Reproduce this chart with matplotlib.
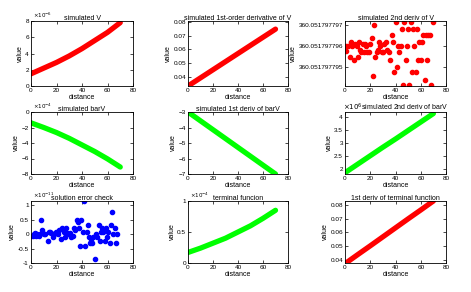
import matplotlib
matplotlib.use("Agg")
import matplotlib.pyplot as plt
import numpy as np
from matplotlib.ticker import FuncFormatter

plt.rcParams['font.family'] = ['Liberation Sans', 'DejaVu Sans']

RED = '#ff0000'
GREEN = '#00ff00'
BLUE = '#0000ff'

xc = [0, 10, 20, 30, 40, 50, 60, 70]
# simulated V (x1e-6)
v_vals = [1.5, 2.2, 2.9, 3.7, 4.6, 5.6, 6.6, 7.8]
# simulated 1st-order derivative of V
dv_vals = [0.033, 0.039, 0.045, 0.051, 0.057, 0.063, 0.069, 0.075]
# simulated 2nd deriv of V: offsets from 360.051797796 in units of 1e-9
d2v_x = [0.5, 0.8, 2.6, 4, 4.8, 5.8, 6.9, 7.9, 9.2, 10, 11, 12, 13, 14, 15, 15.8, 16.6, 17.7, 19, 20,
         21, 22, 23, 24, 25, 26, 27, 28, 29, 30, 31, 32.5, 33.5, 35, 36, 37, 38, 39, 40, 41,
         42, 43, 44, 45, 46, 47, 48, 49, 50, 51, 52, 53, 54, 55, 56, 57, 58, 59, 60, 61,
         62, 63, 64, 65, 66, 67, 68, 69.5]
d2v_y = [0.0, -0.25, 0.0, -0.5, 0.2, 0.0, -0.65, 0.1, 0.0, -0.5, 0.2, -0.2, -0.3, 0.1, -0.3, 0.1, 0.0, -0.3, -0.3, 0.1,
         0.4, -1.4, 1.0, -0.5, -0.3, -0.2, 0.2, 0.0, -0.3, -0.3, 0.1, 0.2, -0.2, -0.3, -0.65, 0.55, 0.2, -1.25, 1.15, -1.0,
         0.0, -0.3, 0.0, 0.8, -1.85, 1.15, -0.65, 0.0, 0.8, -1.85, 1.15, -1.25, 0.8, 0.0, -1.25, 0.8, -0.65, 0.2, -0.65, 0.2,
         0.55, -1.6, 0.55, -0.65, 0.55, 0.55, -1.85, 1.15]
d2v_base = 360.051797796
# simulated barV (x1e-4)
bv_vals = [-1.4, -2.0, -2.65, -3.4, -4.25, -5.1, -6.05, -7.1]
# simulated 1st deriv of barV
dbv_vals = [-3.0, -3.571, -4.143, -4.714, -5.286, -5.857, -6.429, -7.0]
# simulated 2nd deriv of barV
d2bv_vals = [1.85, 2.18, 2.51, 2.84, 3.16, 3.49, 3.82, 4.15]
# solution error check (x1e-11)
err_x = [0, 1.3, 2, 3, 4, 5, 6, 7, 8, 9, 10, 11, 13, 14, 15, 16, 17, 18, 19.5, 20,
         21.5, 22, 23.4, 24.4, 25.5, 26.5, 27.5, 28.5, 29.6, 30.6, 31.7, 32.7, 33.8, 34.8, 36, 37, 38, 38.5, 39.5, 40.5,
         41.5, 42.6, 43.6, 44.4, 45.2, 46.2, 47, 47.8, 48.8, 50, 51, 52, 53, 53.8, 54.8, 55.6, 56.6, 58, 58.7, 59.7,
         60.5, 62, 62.6, 63.6, 64.7, 65.7, 66.5, 67.5]
err_y = [-0.07, -0.07, 0, 0.05, -0.07, 0, -0.07, 0, 0.5, 0.14, 0, 0, -0.23, 0.08, 0.08, 0.02, -0.11, 0, 0.08, 0.02,
         0, 0.14, -0.18, 0.2, 0.08, -0.09, 0.2, 0.05, 0, 0.05, -0.11, -0.07, 0.2, 0.14, 0.5, 0.4, 0.2, -0.43, 0.5, 0.08,
         1.15, -0.43, 0.08, 0.3, -0.11, -0.32, -0.23, -0.32, -0.11, -0.85, 0, -0.11, 0.3, -0.23, 0.08, 0.2, 0.08, -0.23, 0.2, -0.11,
         0.08, -0.32, 0.3, 0.75, 0, 0.2, -0.32, 0]
# terminal function (x1e-4)
tf_vals = [0.17, 0.24, 0.32, 0.40, 0.50, 0.60, 0.72, 0.85]
# 1st deriv of terminal function
dtf_vals = [0.037, 0.0436, 0.0501, 0.0567, 0.0633, 0.0699, 0.0764, 0.083]

fig = plt.figure(figsize=(4.71, 2.92), dpi=100)
W, H = 471.0, 292.0

cols = [(31, 133), (188, 288), (345, 446)]
rows = [(21, 86), (112, 174), (201, 263)]

FS = 4.6


def make_ax(r, c):
    l, rt = cols[c]
    t, b = rows[r]
    ax = fig.add_axes([l / W, 1 - b / H, (rt - l) / W, (b - t) / H])
    ax.tick_params(direction='in', length=2, width=0.5, labelsize=FS, pad=1.5,
                   top=True, right=True)
    for s in ax.spines.values():
        s.set_linewidth(0.6)
    ax.set_xlim(0, 80)
    ax.set_xticks([0, 20, 40, 60, 80])
    ax.set_xlabel('distance', fontsize=FS + 0.4, labelpad=0.5)
    ax.set_ylabel('value', fontsize=FS + 0.4, labelpad=1)
    return ax


def exp_label(ax, txt):
    ax.text(0.02, 1.01, txt, transform=ax.transAxes, fontsize=FS - 0.6,
            ha='left', va='bottom')


def title(ax, txt):
    ax.set_title(txt, fontsize=FS + 0.4, pad=1)


LW = 3.8
MS = 3.0

# Row 1
ax = make_ax(0, 0)
ax.plot(xc, v_vals, color=RED, lw=LW, solid_capstyle='round')
ax.set_ylim(0, 8)
ax.set_yticks([0, 2, 4, 6, 8])
title(ax, 'simulated V')
exp_label(ax, r'$\times10^{-6}$')

ax = make_ax(0, 1)
ax.plot(xc, dv_vals, color=RED, lw=LW, solid_capstyle='round')
ax.set_ylim(0.033, 0.081)
ax.set_yticks([0.04, 0.05, 0.06, 0.07, 0.08])
title(ax, 'simulated 1st-order derivative of V')

ax = make_ax(0, 2)
ax.plot(d2v_x, [d2v_base + y * 1e-9 for y in d2v_y], 'o', color=RED, ms=MS, mec=RED)
ax.set_ylim(d2v_base - 1.9e-9, d2v_base + 1.2e-9)
ax.set_yticks([d2v_base - 1e-9, d2v_base, d2v_base + 1e-9])
ax.yaxis.set_major_formatter(FuncFormatter(lambda v, p: '%.9f' % v))
title(ax, 'simulated 2nd deriv of V')

# Row 2
ax = make_ax(1, 0)
ax.plot(xc, bv_vals, color=GREEN, lw=LW, solid_capstyle='round')
ax.set_ylim(-8, 0)
ax.set_yticks([-8, -6, -4, -2, 0])
title(ax, 'simulated barV')
exp_label(ax, r'$\times10^{-4}$')

ax = make_ax(1, 1)
ax.plot(xc, dbv_vals, color=GREEN, lw=LW, solid_capstyle='round')
ax.set_ylim(-7, -3)
ax.set_yticks([-7, -6, -5, -4, -3])
title(ax, 'simulated 1st deriv of barV')

ax = make_ax(1, 2)
ax.plot(xc, d2bv_vals, color=GREEN, lw=LW, solid_capstyle='round')
ax.set_ylim(1.8, 4.21)
ax.set_yticks([2, 2.5, 3, 3.5, 4])
ax.set_yticklabels(['2', '2.5', '3', '3.5', '4'])
title(ax, r'$\times10^{6}$simulated 2nd deriv of barV')

# Row 3
ax = make_ax(2, 0)
ax.plot(err_x, err_y, 'o', color=BLUE, ms=MS, mec=BLUE)
ax.set_ylim(-1, 1.14)
ax.set_yticks([-1, -0.5, 0, 0.5, 1])
ax.set_yticklabels(['-1', '-0.5', '0', '0.5', '1'])
title(ax, 'solution error check')
exp_label(ax, r'$\times10^{-11}$')

ax = make_ax(2, 1)
ax.plot(xc, tf_vals, color=GREEN, lw=LW, solid_capstyle='round')
ax.set_ylim(0, 1)
ax.set_yticks([0, 0.5, 1])
ax.set_yticklabels(['0', '0.5', '1'])
title(ax, 'terminal funcion')
exp_label(ax, r'$\times10^{-4}$')

ax = make_ax(2, 2)
ax.plot(xc, dtf_vals, color=RED, lw=LW, solid_capstyle='round')
ax.set_ylim(0.0375, 0.083)
ax.set_yticks([0.04, 0.05, 0.06, 0.07, 0.08])
title(ax, '1st deriv of terminal function')

fig.savefig('out.png', dpi=100)
